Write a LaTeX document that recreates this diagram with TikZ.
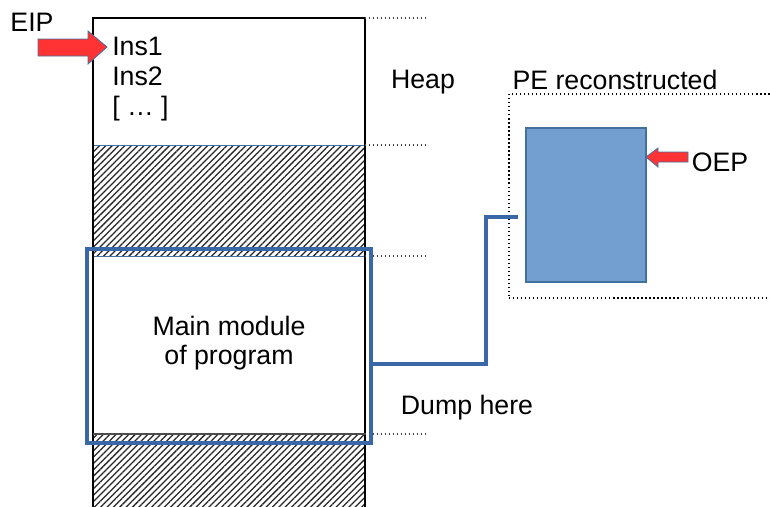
\documentclass[tikz,border=0pt]{standalone}
\usepackage{fontspec}
\setmainfont{Liberation Sans}
\usetikzlibrary{patterns.meta}

\definecolor{dumpblue}{HTML}{3A67A8}
\definecolor{bodyblue}{HTML}{729FCF}
\definecolor{arrowred}{HTML}{FF3333}
\definecolor{edgeblue}{HTML}{41719C}

\begin{document}
\begin{tikzpicture}[
    x=0.25mm,y=-0.25mm,
    font=\fontsize{19}{21.5}\selectfont,
    mem/.style={line width=0.4mm},
    guide/.style={dotted,line width=0.3mm,black!75},
    hatch/.style={pattern={Lines[angle=45,distance=3.2pt,line width=0.9pt]},pattern color=black!85,
        draw=edgeblue,line width=0.2mm},
    dumpbox/.style={draw=dumpblue,line width=1mm,minimum width=71mm,minimum height=48.5mm},
    dumpline/.style={draw=dumpblue,line width=1mm},
    pointer/.style={fill=arrowred,draw=edgeblue,line width=0.2mm}
]

\clip (0,0) rectangle (770,506);

% memory column
\filldraw[hatch] (93,145) rectangle (365,256);
\filldraw[hatch] (93,434) rectangle (365,520);
\draw[mem] (93,520) -- (93,18) -- (365,18) -- (365,520);
\draw[black!70,line width=0.3mm] (93,434) -- (365,434);
\foreach \y in {18,145,256,434}
    \draw[guide] (365,\y) -- (427,\y);

\node (eip) at (32,22) {EIP};
\node[anchor=west,align=left,inner sep=0,font=\fontsize{19}{21.3}\selectfont] (ins) at (112,79)
    {Ins1\\Ins2\\{[} … {]}};
\filldraw[pointer] (38,39) -- (88,39) -- (88,31) -- (107,47) -- (88,64) -- (88,56) -- (38,56) -- cycle;

\node (heap) at (423,82) {Heap};
\node[align=center,font=\fontsize{19}{20.6}\selectfont] (main) at (229,343) {Main module\\of program};
\node[dumpbox] (dump) at (229,345.5) {};
\node (dumphere) at (467,408) {Dump here};

% reconstructed image
\node (pelabel) at (615,80) {PE reconstructed};
\node[draw,dotted,line width=0.3mm,minimum width=70.25mm,minimum height=51mm] (pe) at (649.5,196) {};
\node[fill=bodyblue,draw=edgeblue,line width=0.3mm,minimum width=30mm,minimum height=38.5mm] (pebody) at (586,205) {};
\node (oep) at (720,162) {OEP};
\filldraw[pointer] (688,152) -- (658,152) -- (658,148) -- (646,157) -- (658,167) -- (658,162) -- (688,162) -- cycle;

\coordinate (feed) at (518,217);
\draw[dumpline] (dump.east) ++(0,18.5) -- ++(113,0) |- (feed);

\end{tikzpicture}
\end{document}
